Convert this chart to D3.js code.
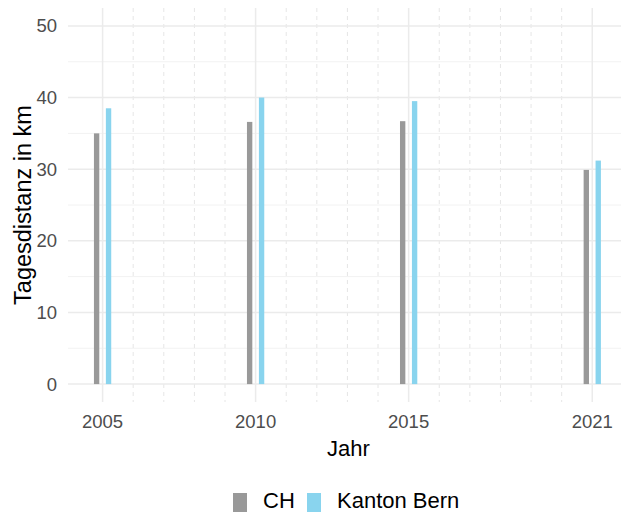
<!DOCTYPE html>
<html><head><meta charset="utf-8">
<script src="https://cdn.jsdelivr.net/npm/d3@7"></script>
<style>body{margin:0;background:#fff}svg{display:block;font-family:"Liberation Sans",Arial,sans-serif}</style>
</head><body><svg id="c" width="621" height="512"></svg>
<script>
const years = [2005, 2010, 2015, 2021];
const seriesNames = ["CH", "Kanton Bern"];
const valuesCH = [35.0, 36.6, 36.7, 29.9];
const valuesBern = [38.5, 40.0, 39.5, 31.2];
const yTicks = [0, 10, 20, 30, 40, 50];
const yMinor = [5, 15, 25, 35, 45];
const colors = ["#999999", "#89D4EE"];

const svg = d3.select("#c");
const panel = {left: 68, right: 629, top: 8, bottom: 402};
const x = d3.scaleLinear().domain([2003.87, 2022.2]).range([panel.left, panel.right]);
const y = d3.scaleLinear().domain([-2.5, 52.5]).range([panel.bottom, panel.top]);

const allYears = d3.range(2005, 2022);
const minorYears = allYears.filter(v => !years.includes(v));

const g = svg.append("g");
g.selectAll(".hmin").data(yMinor).join("line")
  .attr("x1", panel.left).attr("x2", panel.right)
  .attr("y1", d => y(d)).attr("y2", d => y(d))
  .attr("stroke", "#F2F2F2").attr("stroke-width", 1);
g.selectAll(".vmin").data(minorYears).join("line")
  .attr("x1", d => x(d)).attr("x2", d => x(d))
  .attr("y1", panel.top).attr("y2", panel.bottom)
  .attr("stroke", "#E6E6E6").attr("stroke-width", 1).attr("stroke-dasharray", "4,4");
g.selectAll(".hmaj").data(yTicks).join("line")
  .attr("x1", panel.left).attr("x2", panel.right)
  .attr("y1", d => y(d)).attr("y2", d => y(d))
  .attr("stroke", "#EBEBEB").attr("stroke-width", 1.5);
g.selectAll(".vmaj").data(years).join("line")
  .attr("x1", d => x(d)).attr("x2", d => x(d))
  .attr("y1", panel.top).attr("y2", panel.bottom)
  .attr("stroke", "#EBEBEB").attr("stroke-width", 1.5);

const barW = 0.175, off = 0.195;
const series = [valuesCH, valuesBern];
series.forEach((vals, si) => {
  const o = si === 0 ? -off : off;
  g.selectAll(".b" + si).data(vals).join("rect")
    .attr("x", (d, i) => x(years[i] + o - barW / 2))
    .attr("width", (d, i) => x(years[i] + barW) - x(years[i]))
    .attr("y", d => y(d))
    .attr("height", d => y(0) - y(d))
    .attr("fill", colors[si]);
});

svg.selectAll(".yl").data(yTicks).join("text")
  .attr("x", 57).attr("y", d => y(d)).attr("dy", "0.35em")
  .attr("text-anchor", "end").attr("font-size", 18.5).attr("fill", "#4D4D4D")
  .text(d => d);
svg.selectAll(".xl").data(years).join("text")
  .attr("x", d => x(d)).attr("y", 428)
  .attr("text-anchor", "middle").attr("font-size", 18.5).attr("fill", "#4D4D4D")
  .text(d => d);

svg.append("text").attr("x", (68 + 629) / 2).attr("y", 456)
  .attr("text-anchor", "middle").attr("font-size", 22).attr("fill", "#000").text("Jahr");
svg.append("text").attr("transform", `translate(31,${(panel.top + panel.bottom) / 2}) rotate(-90)`)
  .attr("text-anchor", "middle").attr("font-size", 23.5).attr("fill", "#000").text("Tagesdistanz in km");

const leg = svg.append("g");
const legX = [233, 307];
seriesNames.forEach((n, i) => {
  leg.append("rect").attr("x", legX[i]).attr("y", 493).attr("width", 14).attr("height", 20).attr("fill", colors[i]);
  leg.append("text").attr("x", legX[i] + 30).attr("y", 508).attr("font-size", 22).attr("fill", "#000").text(n);
});
</script></body></html>
